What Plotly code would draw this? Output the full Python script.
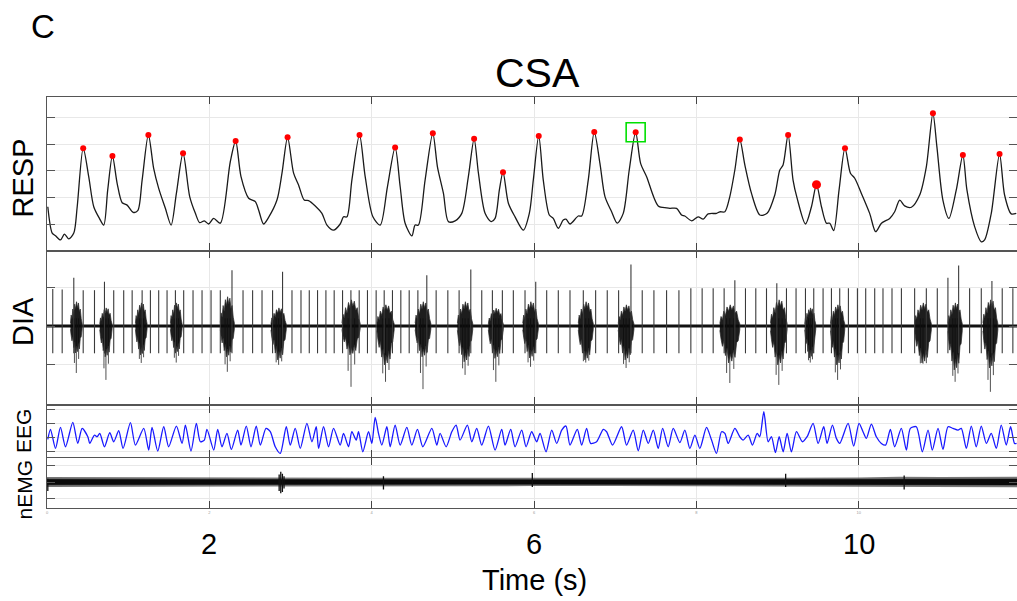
import plotly.graph_objects as go

# ---------------- data ----------------
x_ticks = [0, 2, 4, 6, 8, 10]
big_tick_vals = [2, 6, 10]
x_range = [0, 11.95]

resp_t = [0.01,0.064,0.105,0.166,0.215,0.268,0.33,0.372,0.446,0.514,
          0.576,0.646,0.699,0.748,0.806,0.864,0.926,0.987,1.061,1.118,
          1.172,1.249,1.314,1.376,1.458,1.529,1.594,1.676,1.758,1.828,
          1.881,1.938,1.991,2.053,2.135,2.258,2.324,2.39,2.484,2.566,
          2.607,2.668,2.73,2.833,2.895,2.964,3.038,3.099,3.169,3.222,
          3.305,3.387,3.449,3.53,3.612,3.653,3.695,3.756,3.85,3.92,
          4.015,4.105,4.194,4.289,4.351,4.412,4.495,4.535,4.576,4.658,
          4.753,4.81,4.884,4.945,5.028,5.11,5.191,5.262,5.315,5.397,
          5.471,5.52,5.573,5.618,5.684,5.766,5.868,5.942,5.991,6.058,
          6.114,6.188,6.237,6.299,6.36,6.394,6.443,6.545,6.587,6.668,
          6.742,6.812,6.874,6.956,7.025,7.099,7.173,7.252,7.313,7.387,
          7.53,7.633,7.674,7.756,7.818,7.858,7.941,8.022,8.084,8.145,
          8.249,8.289,8.351,8.412,8.474,8.535,8.597,8.679,8.782,8.871,
          8.966,9.028,9.068,9.13,9.191,9.241,9.344,9.418,9.48,9.541,
          9.603,9.643,9.692,9.758,9.831,9.898,9.951,10.033,10.135,10.209,
          10.28,10.382,10.443,10.505,10.566,10.649,10.751,10.833,10.914,10.963,
          11.037,11.111,11.202,11.283,11.333,11.428,11.51,11.551,11.633,11.735,
          11.797,11.879,11.941]
resp_v = [0.65,-0.34,-0.44,-0.60,-0.38,-0.56,-0.34,0.65,2.85,1.78,
          0.65,0.21,-0.04,1.28,2.56,1.53,0.80,0.71,0.44,0.50,
          1.65,3.35,2.09,1.34,0.59,-0.04,1.15,2.66,1.03,0.40,
          0.05,0.12,0.0,0.21,0.03,2.34,3.12,1.78,0.97,0.84,
          0.53,0.0,0.25,0.90,1.91,3.26,1.91,1.47,0.90,0.88,
          0.68,0.40,-0.04,-0.23,0.0,0.27,0.27,1.65,3.35,1.78,
          0.27,-0.04,1.40,2.88,1.40,0.03,-0.45,-0.04,-0.04,1.65,
          3.41,2.15,1.15,0.09,0.12,0.40,1.78,3.20,1.91,0.40,
          0.09,0.21,1.28,1.95,0.78,0.27,-0.23,0.40,1.65,3.31,
          1.65,0.34,0.21,-0.16,0.15,0.18,0.0,0.30,0.30,1.65,
          3.46,2.28,1.03,0.46,0.03,0.40,2.03,3.45,2.28,1.78,
          0.68,0.61,0.59,0.59,0.34,0.30,0.12,0.27,0.18,0.38,
          0.40,0.46,0.46,1.03,2.03,3.18,2.22,1.15,0.34,0.40,
          1.09,2.03,2.22,3.35,1.65,0.97,0.0,0.65,1.48,0.65,
          0.03,0.03,-0.25,1.28,2.85,1.91,1.72,1.15,0.40,-0.29,
          0.03,0.21,0.46,0.90,0.68,0.63,1.09,2.15,4.16,2.91,
          0.90,0.21,1.28,2.59,1.28,-0.10,-0.67,-0.60,0.40,2.63,
          1.09,0.38,0.40]

peak_t = [0.446,0.806,1.249,1.676,2.324,2.964,3.85,4.289,4.753,5.262,
          5.618,6.058,6.742,7.252,8.535,9.13,9.831,10.914,11.283,11.735]
peak_v = [2.85,2.56,3.35,2.66,3.12,3.26,3.35,2.88,3.41,3.20,
          1.95,3.31,3.46,3.45,3.18,3.35,2.85,4.16,2.59,2.63]
big_peak_t = [9.48]
big_peak_v = [1.48]
highlight_t = [7.252]
highlight_v = [3.45]

dia_spike_t = [0.071,0.187,0.330,0.446,0.585,0.708,0.822,0.945,1.049,1.172,
               1.274,1.376,1.479,1.582,1.684,1.799,1.910,2.021,2.135,2.279,
               2.415,2.533,2.649,2.779,2.902,3.018,3.129,3.231,3.333,3.436,
               3.538,3.641,3.744,3.846,3.948,4.055,4.154,4.256,4.359,4.462,
               4.569,4.679,4.794,4.938,5.077,5.221,5.356,5.487,5.610,5.745,
               5.889,6.021,6.156,6.299,6.443,6.607,6.759,6.902,7.042,7.194,
               7.333,7.477,7.633,7.785,7.932,8.071,8.207,8.342,8.474,8.605,
               8.732,8.864,8.991,9.110,9.228,9.344,9.446,9.561,9.664,9.766,
               9.873,9.984,10.086,10.197,10.299,10.410,10.526,10.689,10.833,10.968,
               11.099,11.231,11.366,11.510,11.641,11.768,11.899]
dia_spike_up = [0.96,0.95,1.25,0.93,0.93,1.15,0.93,0.93,0.93,0.93,
                0.93,0.93,0.93,0.93,0.93,0.93,0.93,0.93,0.93,1.45,
                0.93,0.93,0.93,0.93,1.41,0.93,0.93,0.93,0.93,0.93,
                0.93,0.93,0.93,0.93,0.93,0.93,0.93,0.93,0.93,0.93,
                0.93,1.32,0.93,0.93,0.93,1.47,0.93,0.93,0.93,0.93,
                0.93,1.15,0.93,0.93,0.93,0.93,0.93,0.93,0.93,1.60,
                0.93,0.93,0.93,0.93,0.98,0.98,0.98,0.98,1.19,0.98,
                0.98,0.98,1.11,0.98,0.98,0.98,0.98,0.98,0.98,0.98,
                0.98,0.98,0.98,0.98,0.98,0.98,0.98,0.98,0.98,0.98,
                1.25,1.57,0.98,0.98,1.17,0.98,0.98]
dia_spike_dn = 0.71

dia_burst_t0 = [0.289,0.650,1.089,1.520,2.135,2.759,3.633,4.064,4.535,5.056,
                5.437,5.861,6.545,7.037,8.289,8.913,9.335,9.652,10.689,11.099,11.530]
dia_burst_t1 = [0.433,0.802,1.233,1.664,2.308,2.948,3.858,4.277,4.729,5.245,
                5.622,6.053,6.730,7.231,8.535,9.118,9.471,9.828,10.895,11.276,11.714]
dia_burst_up = [0.63,0.47,0.60,0.60,0.76,0.47,0.68,0.55,0.63,0.63,
                0.46,0.63,0.63,0.55,0.55,0.68,0.47,0.55,0.60,0.60,0.68]
dia_burst_dn = [0.70,0.80,0.75,0.70,0.80,0.88,0.75,1.01,0.80,0.93,
                0.84,0.83,0.88,0.88,0.96,1.01,0.83,1.01,0.96,1.14,1.09]
dia_burst_dn_max = [1.22,1.40,0.96,0.95,1.19,1.01,1.58,1.45,1.64,1.27,
                    1.45,1.06,0.95,1.09,1.48,1.53,0.95,1.40,0.98,1.45,1.71]

eeg_t = [0.010,0.043,0.105,0.166,0.228,0.318,0.379,0.433,0.503,0.527,
         0.585,0.617,0.650,0.708,0.773,0.822,0.884,0.937,1.028,1.089,
         1.192,1.253,1.294,1.364,1.438,1.499,1.594,1.664,1.705,1.774,
         1.840,1.889,1.938,1.971,2.054,2.103,2.156,2.217,2.271,2.349,
         2.390,2.455,2.513,2.578,2.628,2.698,2.751,2.812,2.874,2.948,
         2.997,3.058,3.120,3.202,3.264,3.317,3.346,3.407,3.469,3.530,
         3.612,
         3.653,3.715,3.756,3.809,3.838,3.891,3.961,4.002,4.043,4.084,
         4.125,4.187,4.228,4.289,4.351,4.433,4.494,4.564,4.630,4.741,
         4.802,4.843,4.917,4.987,5.040,5.089,5.179,5.233,5.294,5.356,
         5.438,5.520,5.602,5.643,5.713,5.766,5.848,5.902,5.971,6.033,
         6.074,6.148,6.218,6.279,6.341,6.394,6.443,6.533,6.587,6.648,
         6.697,6.771,6.853,6.894,6.968,7.079,7.140,7.222,7.284,7.346,
         7.407,7.469,7.530,7.584,7.653,7.715,
         7.797,7.858,7.920,7.982,8.043,8.125,8.187,8.248,8.310,8.351,
         8.392,8.474,8.535,8.576,8.638,8.691,8.749,8.781,8.831,8.884,
         8.925,8.974,9.020,9.069,9.118,9.171,9.233,9.307,9.364,9.438,
         9.500,9.569,9.610,9.676,9.725,9.766,9.869,9.938,10.004,10.053,
         10.094,10.156,10.217,10.279,10.332,10.390,10.443,10.525,10.587,10.636,
         10.710,10.784,10.854,10.907,10.977,11.038,11.100,11.161,11.223,11.264,
         11.326,11.387,11.448,11.510,11.572,11.633,11.695,11.756,11.818,11.871,
         11.920,11.945]
eeg_v = [-0.12,0.60,-0.77,0.74,-0.65,1.10,-0.41,0.67,0.07,-0.41,
         0.19,0.07,0.31,-0.65,0.36,-0.29,0.50,-0.77,1.08,-0.53,
         0.67,-0.89,0.74,-0.96,0.79,-0.65,0.84,-0.41,0.91,-0.96,
         1.03,-0.29,-0.17,0.60,-0.89,0.60,-0.65,0.31,-0.84,0.55,
         -0.53,0.84,-0.65,0.84,-0.53,0.67,0.43,-0.65,-1.13,0.79,
         -0.53,0.67,-0.77,1.03,-0.29,0.79,-0.77,0.79,-0.65,0.67,
         -0.53,
         0.31,-0.65,0.43,-0.17,0.43,-1.01,0.43,-0.41,1.46,0.31,
         -0.53,0.79,-0.65,0.91,-0.53,0.74,-0.53,0.60,-0.65,0.67,
         -0.53,0.31,-0.65,0.43,0.91,-0.17,0.91,-0.29,0.67,-0.53,
         0.84,-0.89,0.60,-0.53,0.60,-0.65,0.55,-0.65,0.43,-0.29,
         0.31,-1.01,0.55,-0.41,0.55,0.84,-0.53,0.60,-0.53,0.67,
         -0.41,-0.29,0.60,0.43,-0.53,0.79,-0.53,0.55,-0.94,0.55,
         -0.41,0.55,-0.77,0.67,-0.65,0.67,
         -0.35,0.55,-0.77,0.19,-0.77,0.74,-0.17,-1.13,0.43,0.31,
         -0.41,0.67,0.07,-0.17,0.19,-0.53,0.31,0.07,1.87,-0.29,
         0.07,-1.08,0.07,-1.01,0.31,-1.01,0.43,-0.29,0.07,1.03,
         -0.41,0.79,-0.41,0.91,-0.05,-0.41,1.03,-0.60,1.03,0.43,
         -0.05,0.98,0.07,-0.41,-0.53,0.60,-0.65,0.67,-0.89,0.67,
         0.79,-1.01,0.55,-0.89,0.67,-0.84,0.79,0.67,0.55,0.67,
         -0.77,0.84,-0.65,0.84,-0.41,0.31,-0.77,0.91,-0.53,0.79,
         -0.41,-0.41]

emg_t = [0, 1, 2, 3, 4, 5, 6, 7, 8, 9, 10, 10.5, 11, 11.95]
emg_hi = [0.30,0.28,0.27,0.27,0.26,0.26,0.25,0.25,0.26,0.26,0.28,0.32,0.30,0.32]
emg_lo = [-0.30,-0.28,-0.27,-0.27,-0.26,-0.26,-0.25,-0.25,-0.26,-0.26,-0.28,-0.32,-0.30,-0.32]
emg_spike_t = [0.01, 2.86, 2.88, 2.90, 2.92, 4.145, 5.979, 9.10, 10.56]
emg_spike_hi = [0.20, 0.45, 0.62, 0.50, 0.35, 0.35, 0.55, 0.50, 0.40]
emg_spike_lo = [-0.55, -0.55, -0.68, -0.60, -0.40, -0.45, -0.30, -0.30, -0.45]

# ---------------- styling ----------------
FONT = "Liberation Sans, Arial, sans-serif"
W, H = 1017, 601
ML = 47
PW = W - ML

def py(px):
    return 1 - px / H

def pxx(px):
    return (px - ML) / PW

fig = go.Figure()

# RESP
fig.add_trace(go.Scatter(x=resp_t, y=resp_v, mode="lines",
                         line=dict(color="#1a1a1a", width=1.3, shape="spline", smoothing=0.8),
                         xaxis="x", yaxis="y", hoverinfo="skip"))
fig.add_trace(go.Scatter(x=peak_t, y=peak_v, mode="markers",
                         marker=dict(color="#ff0000", size=6),
                         xaxis="x", yaxis="y"))
fig.add_trace(go.Scatter(x=big_peak_t, y=big_peak_v, mode="markers",
                         marker=dict(color="#ff0000", size=9),
                         xaxis="x", yaxis="y"))
fig.add_trace(go.Scatter(x=highlight_t, y=highlight_v, mode="markers",
                         marker=dict(symbol="square-open", size=19, color="#00e000",
                                     line=dict(width=1.6, color="#00e000")),
                         xaxis="x", yaxis="y"))

# DIA baseline
fig.add_trace(go.Scatter(x=x_range, y=[0, 0], mode="lines",
                         line=dict(color="#111111", width=3),
                         xaxis="x2", yaxis="y2"))
# DIA bursts: envelope polygons with a ragged outline (style template)
prof_f = [0, 0.06, 0.13, 0.2, 0.28, 0.36, 0.44, 0.52, 0.6, 0.68, 0.76, 0.84, 0.92, 1.0]
prof_u = [0.12, 0.45, 0.3, 0.7, 0.5, 0.9, 0.7, 1.0, 0.75, 0.95, 0.6, 0.7, 0.3, 0.1]
prof_d = [0.12, 0.35, 0.55, 0.4, 0.8, 0.6, 1.0, 0.75, 0.95, 0.65, 0.85, 0.45, 0.4, 0.1]
bx, by = [], []
ox, oy = [], []
for t0, t1, up, dn, dmx in zip(dia_burst_t0, dia_burst_t1, dia_burst_up,
                               dia_burst_dn, dia_burst_dn_max):
    w = t1 - t0
    xs = [t0 + f * w for f in prof_f]
    upper = [m * up for m in prof_u]
    lower = [-m * dn for m in prof_d]
    bx += xs + xs[::-1] + [None]
    by += upper + lower[::-1] + [None]
    for f, k in ((0.5, 1.0), (0.34, 0.5), (0.7, 0.3)):
        ox += [t0 + f * w, t0 + f * w, None]
        oy += [0.2, -(dn + k * (dmx - dn)), None]
fig.add_trace(go.Scatter(x=ox, y=oy, mode="lines",
                         line=dict(color="#505050", width=1),
                         xaxis="x2", yaxis="y2"))
fig.add_trace(go.Scatter(x=bx, y=by, mode="lines", fill="toself",
                         fillcolor="rgba(10,10,10,0.92)",
                         line=dict(color="rgba(40,40,40,0.9)", width=0.8),
                         xaxis="x2", yaxis="y2"))
# DIA ECG spikes
sx, sy = [], []
for t, u in zip(dia_spike_t, dia_spike_up):
    sx += [t, t, None]
    sy += [u, -dia_spike_dn, None]
fig.add_trace(go.Scatter(x=sx, y=sy, mode="lines",
                         line=dict(color="#3a3a3a", width=1.1),
                         xaxis="x2", yaxis="y2"))

# EEG
fig.add_trace(go.Scatter(x=eeg_t, y=eeg_v, mode="lines",
                         line=dict(color="rgb(25,25,255)", width=1.3, shape="spline", smoothing=0.7),
                         xaxis="x3", yaxis="y3"))

# nEMG
fig.add_trace(go.Scatter(x=emg_t + emg_t[::-1], y=emg_hi + emg_lo[::-1],
                         mode="lines", fill="toself", fillcolor="rgba(60,60,60,0.7)",
                         line=dict(width=0, color="rgba(0,0,0,0)"),
                         xaxis="x4", yaxis="y4"))
fig.add_trace(go.Scatter(x=emg_t + emg_t[::-1], y=[v * 0.55 for v in emg_hi] + [v * 0.55 for v in emg_lo][::-1],
                         mode="lines", fill="toself", fillcolor="#0a0a0a",
                         line=dict(width=0.5, color="#0a0a0a"),
                         xaxis="x4", yaxis="y4"))
ex, ey = [], []
for t, hi, lo in zip(emg_spike_t, emg_spike_hi, emg_spike_lo):
    ex += [t, t, None]
    ey += [hi, lo, None]
fig.add_trace(go.Scatter(x=ex, y=ey, mode="lines",
                         line=dict(color="#111111", width=1.3),
                         xaxis="x4", yaxis="y4"))

AX_LINE = "#555555"
GRID = "#e8e8e8"

def xaxis(anchor, labels=False):
    d = dict(range=x_range, tickvals=x_ticks, ticks="inside", ticklen=7,
             tickwidth=1, tickcolor="#444444", showgrid=True, gridcolor=GRID,
             gridwidth=1, showline=True, linecolor=AX_LINE, linewidth=1.3,
             mirror="ticks", showticklabels=labels, zeroline=False,
             anchor=anchor, domain=[0, 1])
    if labels:
        d["tickfont"] = dict(size=4, color="#9a9a9a", family=FONT)
    return d

def yaxis(anchor, dom, rng, tv):
    return dict(domain=dom, range=rng, tickvals=tv, ticks="inside", ticklen=8,
                tickwidth=1, tickcolor="#555555", showgrid=True, gridcolor=GRID,
                gridwidth=1, showline=True, linecolor=AX_LINE, linewidth=1.3,
                mirror="ticks", showticklabels=False, zeroline=False, anchor=anchor)

fig.update_layout(
    width=W, height=H,
    margin=dict(l=ML, r=0, t=0, b=0),
    paper_bgcolor="white", plot_bgcolor="white",
    showlegend=False,
    font=dict(family=FONT, color="black"),
    xaxis=xaxis("y"),
    xaxis2=xaxis("y2"),
    xaxis3=xaxis("y3"),
    xaxis4=xaxis("y4", labels=True),
    yaxis=yaxis("x", [py(250.5), py(97)], [-0.996, 4.774], [0, 1, 2, 3, 4]),
    yaxis2=yaxis("x2", [py(404), py(251)], [-2.026, 1.948], [-1, 0, 1]),
    yaxis3=yaxis("x3", [py(457), py(406)], [-1.388, 2.281], [-1, 0, 1, 2]),
    yaxis4=yaxis("x4", [py(508), py(457.5)], [-1.576, 1.485], [-1, 0, 1]),
)

ann = [
    dict(text="C", x=pxx(42.5), y=py(27), size=33, angle=0),
    dict(text="CSA", x=pxx(537.5), y=py(72.7), size=41, angle=0),
    dict(text="RESP", x=pxx(22.5), y=py(178), size=29, angle=-90),
    dict(text="DIA", x=pxx(23), y=py(322), size=29, angle=-90),
    dict(text="EEG", x=pxx(23.5), y=py(431.5), size=21, angle=-90),
    dict(text="nEMG", x=pxx(23.5), y=py(490), size=21, angle=-90),
    dict(text="Time (s)", x=pxx(534), y=py(580), size=29, angle=0),
]
for a in ann:
    fig.add_annotation(text=a["text"], x=a["x"], y=a["y"], xref="paper", yref="paper",
                       xanchor="center", yanchor="middle", showarrow=False,
                       textangle=a["angle"], font=dict(size=a["size"], family=FONT, color="black"))
for v in big_tick_vals:
    fig.add_annotation(text=str(v), x=v, y=py(543.5), xref="x4", yref="paper",
                       xanchor="center", yanchor="middle", showarrow=False,
                       font=dict(size=29, family=FONT, color="black"))

fig.write_html("out.html", config={"displayModeBar": False},
               post_script="document.body.style.margin='0';document.body.style.overflow='hidden';")
